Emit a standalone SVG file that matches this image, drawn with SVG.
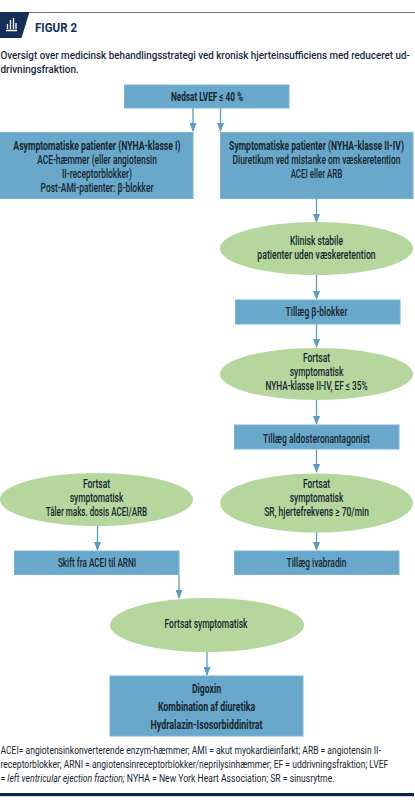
<svg xmlns="http://www.w3.org/2000/svg" width="415" height="800" viewBox="0 0 415 800">
<style>
text{font-family:"Roboto","Liberation Sans",sans-serif;fill:#16262e;font-size:12.500px;font-weight:500;text-anchor:middle}
.b{font-weight:700}
.s{text-anchor:start}
.f{font-size:11.500px;font-weight:400}
.h{font-size:11px;font-weight:500;fill:#1a2a3a}
.box{fill:#69a8ca;stroke:#7db4d2;stroke-width:1}
.ell{fill:#b5d69c}
.c{stroke:#5b9cc4;stroke-width:1.300;fill:none;marker-end:url(#a)}
</style>
<defs><marker id="a" markerUnits="userSpaceOnUse" markerWidth="9" markerHeight="7" refX="8" refY="3.500" orient="auto" viewBox="0 0 9 7"><path d="M0 0L9 3.500L0 7Z" fill="#5b9cc4"/></marker></defs>
<rect width="415" height="800" fill="#fff"/>
<g id="header">
<path d="M28 12.500H415" stroke="#6c7485" stroke-width="1.200"/>
<path d="M0 12H29.500L21.500 38H0Z" fill="#14305a"/>
<path d="M6 30.500H17M7.500 29V24M10.500 29V20M13.500 29V18M16 29V23" stroke="#fff" stroke-width="1.300" fill="none"/>
<text class="s b" transform="translate(35 32)" style="fill:#14305a;font-size:13px" textLength="42" lengthAdjust="spacingAndGlyphs">FIGUR 2</text>
<text class="s h" transform="translate(0.500 59) scale(.86 1)" textLength="476" lengthAdjust="spacingAndGlyphs">Oversigt over medicinsk behandlingsstrategi ved kronisk hjerteinsufficiens med reduceret ud-</text>
<text class="s h" transform="translate(0.500 73) scale(.86 1)" textLength="91" lengthAdjust="spacingAndGlyphs">drivningsfraktion.</text>
</g>
<g id="connectors">
<path class="c" d="M193 108V131"/>
<path class="c" d="M220.500 108V131"/>
<path class="c" d="M316.500 198V222"/>
<path class="c" d="M316.500 275V299"/>
<path class="c" d="M316.500 324V347"/>
<path class="c" d="M316.500 400V424"/>
<path class="c" d="M316.500 449V472"/>
<path class="c" d="M316.500 532V550"/>
<path class="c" d="M97.500 526V550"/>
<path class="c" d="M179 575V598"/>
<path class="c" d="M207 652V675"/>
</g>
<g id="n1"><rect class="box" x="124.500" y="85" width="164.500" height="23"/><text class="b" transform="translate(207 101) scale(.68 1)" textLength="106" lengthAdjust="spacingAndGlyphs">Nedsat LVEF ≤ 40 %</text></g>
<g id="n2"><rect class="box" x="-1" y="132.500" width="194" height="66"/>
<text class="b" transform="translate(97 150) scale(.68 1)" textLength="246" lengthAdjust="spacingAndGlyphs">Asymptomatiske patienter (NYHA-klasse I)</text>
<text transform="translate(97 164) scale(.68 1)" textLength="176" lengthAdjust="spacingAndGlyphs">ACE-hæmmer (eller angiotensin</text>
<text transform="translate(97 178) scale(.68 1)" textLength="103" lengthAdjust="spacingAndGlyphs">II-receptorblokker)</text>
<text transform="translate(97 192) scale(.68 1)" textLength="166" lengthAdjust="spacingAndGlyphs">Post-AMI-patienter: β-blokker</text></g>
<g id="n3"><rect class="box" x="220.500" y="132.500" width="192.500" height="66"/>
<text class="b" transform="translate(316.500 150) scale(.68 1)" textLength="257" lengthAdjust="spacingAndGlyphs">Symptomatiske patienter (NYHA-klasse II-IV)</text>
<text transform="translate(316.500 164) scale(.68 1)" textLength="247" lengthAdjust="spacingAndGlyphs">Diuretikum ved mistanke om væskeretention</text>
<text transform="translate(316.500 178) scale(.68 1)" textLength="76" lengthAdjust="spacingAndGlyphs">ACEI eller ARB</text></g>
<g id="n4"><ellipse class="ell" cx="316.500" cy="248.500" rx="96.500" ry="26.500"/>
<text transform="translate(316.500 245) scale(.68 1)" textLength="78" lengthAdjust="spacingAndGlyphs">Klinisk stabile</text>
<text transform="translate(316.500 259) scale(.68 1)" textLength="174" lengthAdjust="spacingAndGlyphs">patienter uden væskeretention</text></g>
<g id="n5"><rect class="box" x="235.500" y="300" width="164.500" height="24"/><text transform="translate(316.500 316) scale(.68 1)" textLength="91" lengthAdjust="spacingAndGlyphs">Tillæg β-blokker</text></g>
<g id="n6"><ellipse class="ell" cx="316.500" cy="374" rx="96.500" ry="26"/>
<text transform="translate(316.500 362) scale(.68 1)" textLength="40" lengthAdjust="spacingAndGlyphs">Fortsat</text>
<text transform="translate(316.500 376) scale(.68 1)" textLength="79" lengthAdjust="spacingAndGlyphs">symptomatisk</text>
<text transform="translate(316.500 390) scale(.68 1)" textLength="150" lengthAdjust="spacingAndGlyphs">NYHA-klasse II-IV, EF ≤ 35%</text></g>
<g id="n7"><rect class="box" x="234.500" y="425" width="164.500" height="24"/><text transform="translate(316.500 443) scale(.68 1)" textLength="157" lengthAdjust="spacingAndGlyphs">Tillæg aldosteronantagonist</text></g>
<g id="n8"><ellipse class="ell" cx="316.500" cy="503" rx="96.500" ry="29.500"/>
<text transform="translate(316.500 488) scale(.68 1)" textLength="40" lengthAdjust="spacingAndGlyphs">Fortsat</text>
<text transform="translate(316.500 502) scale(.68 1)" textLength="79" lengthAdjust="spacingAndGlyphs">symptomatisk</text>
<text transform="translate(316.500 516) scale(.68 1)" textLength="154" lengthAdjust="spacingAndGlyphs">SR, hjertefrekvens ≥ 70/min</text></g>
<g id="n9"><ellipse class="ell" cx="96.500" cy="499.500" rx="96.500" ry="26.500"/>
<text transform="translate(96.500 488) scale(.68 1)" textLength="40" lengthAdjust="spacingAndGlyphs">Fortsat</text>
<text transform="translate(96.500 502) scale(.68 1)" textLength="79" lengthAdjust="spacingAndGlyphs">symptomatisk</text>
<text transform="translate(96.500 516) scale(.68 1)" textLength="149" lengthAdjust="spacingAndGlyphs">Tåler maks. dosis ACEI/ARB</text></g>
<g id="n10"><rect class="box" x="14.500" y="551" width="164.500" height="23.500"/><text transform="translate(97 567) scale(.68 1)" textLength="115" lengthAdjust="spacingAndGlyphs">Skift fra ACEI til ARNI</text></g>
<g id="n11"><rect class="box" x="234.500" y="551" width="164.500" height="23.500"/><text transform="translate(316.500 567) scale(.68 1)" textLength="88" lengthAdjust="spacingAndGlyphs">Tillæg ivabradin</text></g>
<g id="n12"><ellipse class="ell" cx="207" cy="625" rx="97" ry="27"/><text transform="translate(206 628) scale(.68 1)" textLength="122" lengthAdjust="spacingAndGlyphs">Fortsat symptomatisk</text></g>
<g id="n13"><rect class="box" x="110" y="676" width="193" height="60"/>
<text class="b" transform="translate(206.500 693) scale(.68 1)" textLength="43" lengthAdjust="spacingAndGlyphs">Digoxin</text>
<text class="b" transform="translate(206.500 711) scale(.68 1)" textLength="143" lengthAdjust="spacingAndGlyphs">Kombination af diuretika</text>
<text class="b" transform="translate(206.500 729) scale(.68 1)" textLength="165" lengthAdjust="spacingAndGlyphs">Hydralazin-Isosorbiddinitrat</text></g>
<g id="footer">
<text class="s f" transform="translate(0.500 754) scale(.75 1)" textLength="507" lengthAdjust="spacingAndGlyphs">ACEI= angiotensinkonverterende enzym-hæmmer; AMI = akut myokardieinfarkt; ARB = angiotensin II-</text>
<text class="s f" transform="translate(0.500 767.500) scale(.75 1)" textLength="517" lengthAdjust="spacingAndGlyphs">receptorblokker; ARNI = angiotensinreceptorblokker/neprilysinhæmmer; EF = uddrivningsfraktion; LVEF</text>
<text class="s f" transform="translate(0.500 781.500) scale(.75 1)">= <tspan font-style="italic">left ventricular ejection fraction;</tspan> NYHA = New York Heart Association; SR = sinusrytme.</text>
<path d="M0 794.500H414" stroke="#0f2050" stroke-width="3"/>
<path d="M0 796.500H414" stroke="#c9d6ea" stroke-width="1"/>
</g>
</svg>
